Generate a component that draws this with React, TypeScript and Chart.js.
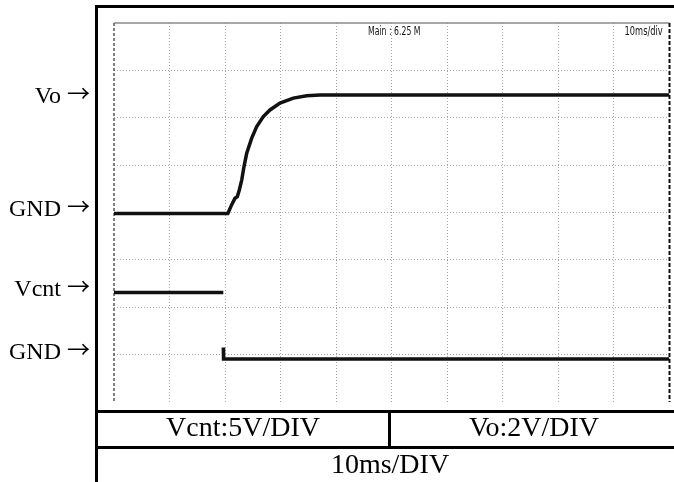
import React, { useEffect, useRef } from "react";
import { Chart, registerables } from "chart.js";

Chart.register(...registerables);

// ---- data (time in ms, 10 ms/div; voltages in volts) ----
const TIME_MIN = 0;
const TIME_MAX = 100;
const TIME_STEP = 10;
const DIV_MIN = 0;
const DIV_MAX = 8;

const VO_TIME = [0, 20.5, 21.17, 21.78, 22.2, 22.56, 22.99, 23.4, 23.89, 24.79, 25.69, 26.88, 28.08, 29.88, 32.28, 34.69, 37.09, 100];
const VO_VOLTS = [0, 0, 0.36, 0.64, 0.71, 0.99, 1.41, 1.98, 2.54, 3.18, 3.67, 4.09, 4.37, 4.66, 4.87, 4.97, 5.0, 5.0];

const VCNT_TIME = [0, 19.68, 19.68, 19.68, 19.72, 100];
const VCNT_VOLTS: (number | null)[] = [7.0, 7.0, null, 1.2, 0, 0];

const VO_VOLTS_PER_DIV = 2;
const VCNT_VOLTS_PER_DIV = 5;
const VO_GND_DIV = 3.98;
const VCNT_GND_DIV = 0.91;

const CHANNEL_LABELS = ["Vo", "GND", "Vcnt", "GND"];
const ARROW = "→";
const SCALE_LABELS = ["Vcnt:5V/DIV", "Vo:2V/DIV", "10ms/DIV"];
const SCOPE_TEXT = ["Main : 6.25 M", "10ms/div"];

const toPoints = (t: number[], v: (number | null)[], gnd: number, vpd: number) =>
  t.map((x, i) => ({ x, y: v[i] === null ? null : gnd + (v[i] as number) / vpd }));

const framePlugin = {
  id: "scopeFrame",
  beforeDatasetsDraw(chart: any) {
    const { ctx, chartArea: a } = chart;
    const line = (x1: number, y1: number, x2: number, y2: number) => {
      ctx.beginPath();
      ctx.moveTo(x1, y1);
      ctx.lineTo(x2, y2);
      ctx.stroke();
    };
    ctx.save();
    ctx.strokeStyle = "#8a8a8a";
    ctx.lineWidth = 1.5;
    ctx.setLineDash([]);
    line(a.left, a.top, a.right, a.top);
    ctx.strokeStyle = "#555";
    ctx.lineWidth = 1.5;
    ctx.setLineDash([3, 2]);
    line(a.left, a.top, a.left, a.bottom);
    ctx.strokeStyle = "#111";
    ctx.lineWidth = 2;
    ctx.setLineDash([4, 2]);
    line(a.right, a.top, a.right, a.bottom);
    ctx.restore();
  },
};

export default function App() {
  const ref = useRef<HTMLCanvasElement | null>(null);

  useEffect(() => {
    if (!ref.current) return;
    const gridColor = (last: number) => (c: any) =>
      c.index === 0 || c.index === last ? "rgba(0,0,0,0)" : "#a4a4a4";
    const chart = new Chart(ref.current, {
      type: "line",
      data: {
        datasets: [
          {
            label: "Vo",
            data: toPoints(VO_TIME, VO_VOLTS, VO_GND_DIV, VO_VOLTS_PER_DIV) as any,
            borderColor: "#111",
            borderWidth: 3.5,
            pointRadius: 0,
            tension: 0,
            spanGaps: false,
          },
          {
            label: "Vcnt",
            data: toPoints(VCNT_TIME, VCNT_VOLTS, VCNT_GND_DIV, VCNT_VOLTS_PER_DIV) as any,
            borderColor: "#111",
            borderWidth: 3.5,
            pointRadius: 0,
            tension: 0,
            spanGaps: false,
          },
        ],
      },
      options: {
        responsive: false,
        animation: false,
        layout: { padding: { left: 114, top: 23, right: 4.5, bottom: 80 } },
        plugins: {
          legend: { display: false },
          tooltip: { enabled: false },
          title: { display: false },
        },
        scales: {
          x: {
            type: "linear",
            min: TIME_MIN,
            max: TIME_MAX,
            ticks: { display: false, stepSize: TIME_STEP },
            grid: { color: gridColor(10), lineWidth: 1, drawTicks: false },
            border: { display: false, dash: [1, 2] },
          },
          y: {
            type: "linear",
            min: DIV_MIN,
            max: DIV_MAX,
            ticks: { display: false, stepSize: 1 },
            grid: { color: gridColor(8), lineWidth: 1, drawTicks: false },
            border: { display: false, dash: [1, 2] },
          },
        },
      },
      plugins: [framePlugin],
    });
    return () => chart.destroy();
  }, []);

  const serif = '"Liberation Serif", "Times New Roman", serif';
  const black: React.CSSProperties = { position: "absolute", background: "#000" };
  const labelTops = [81.4, 194.2, 273.9, 336.7];

  return (
    <div
      style={{
        position: "absolute",
        left: 0,
        top: 0,
        width: 674,
        height: 482,
        overflow: "hidden",
        background: "#fff",
        fontFamily: serif,
      }}
    >
      <canvas ref={ref} width={674} height={482} style={{ position: "absolute", left: 0, top: 0, display: "block" }} />

      {/* frame */}
      <div style={{ ...black, left: 95, top: 5, width: 579, height: 2.5 }} />
      <div style={{ ...black, left: 95, top: 5, width: 3, height: 477 }} />
      <div style={{ ...black, left: 95, top: 410, width: 579, height: 3 }} />
      <div style={{ ...black, left: 95, top: 446, width: 579, height: 3 }} />
      <div style={{ ...black, left: 388, top: 410, width: 3, height: 39 }} />

      {/* channel labels */}
      {CHANNEL_LABELS.map((t, i) => (
        <div
          key={i}
          style={{
            position: "absolute",
            left: 0,
            width: 90,
            top: labelTops[i],
            fontSize: 24,
            lineHeight: "24px",
            textAlign: "right",
            whiteSpace: "nowrap",
            color: "#000",
          }}
        >
          {t}
          <span style={{ display: "inline-block", width: 6 }} />
          <span
            style={{
              fontFamily: '"Noto Sans CJK JP", "DejaVu Sans", sans-serif',
              fontSize: 23,
              display: "inline-block",
              position: "relative",
              top: -1,
            }}
          >
            {ARROW}
          </span>
        </div>
      ))}

      {/* scale table */}
      <div style={{ position: "absolute", left: 98, width: 290, top: 413.25, fontSize: 28, lineHeight: "28px", textAlign: "center", whiteSpace: "nowrap" }}>
        {SCALE_LABELS[0]}
      </div>
      <div style={{ position: "absolute", left: 391, width: 286, top: 413.25, fontSize: 28, lineHeight: "28px", textAlign: "center", whiteSpace: "nowrap" }}>
        {SCALE_LABELS[1]}
      </div>
      <div style={{ position: "absolute", left: 98, width: 584, top: 449.5, fontSize: 28, lineHeight: "28px", textAlign: "center", whiteSpace: "nowrap" }}>
        {SCALE_LABELS[2]}
      </div>

      {/* scope screen texts */}
      <div
        style={{
          position: "absolute",
          left: 368,
          top: 26.2,
          fontFamily: '"DejaVu Sans Condensed", "DejaVu Sans", sans-serif',
          fontSize: 11.5,
          lineHeight: "11px",
          color: "#111",
          whiteSpace: "nowrap",
          transform: "scaleX(0.75)",
          transformOrigin: "left top",
        }}
      >
        {SCOPE_TEXT[0]}
      </div>
      <div
        style={{
          position: "absolute",
          right: 674 - 663,
          top: 26.2,
          fontFamily: '"DejaVu Sans Condensed", "DejaVu Sans", sans-serif',
          fontSize: 11.5,
          lineHeight: "11px",
          color: "#111",
          whiteSpace: "nowrap",
          transform: "scaleX(0.8)",
          transformOrigin: "right top",
        }}
      >
        {SCOPE_TEXT[1]}
      </div>
    </div>
  );
}
